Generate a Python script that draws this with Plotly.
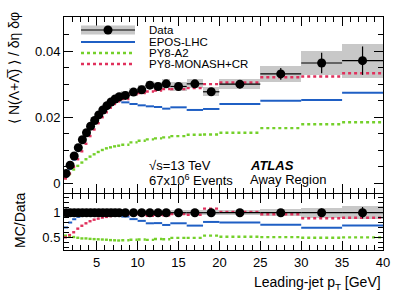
import plotly.graph_objects as go

# ---------------- data ----------------
bin_edges = [1.0, 1.5, 2.0, 2.5, 3.0, 3.5, 4.0, 4.5, 5.0, 5.5, 6.0, 6.5, 7.0, 7.5, 8.0,
             9.0, 10.0, 11.0, 12.0, 13.0, 14.0, 16.0, 18.0, 20.0, 25.0, 30.0, 35.0, 40.0]

data_vals = [0.0030, 0.0055, 0.0083, 0.0108, 0.0132, 0.0153, 0.0173, 0.0190, 0.0207, 0.0222,
             0.0235, 0.0246, 0.0255, 0.0262, 0.0266, 0.0276, 0.0283, 0.0297, 0.0293, 0.0301,
             0.0293, 0.0301, 0.0277, 0.0300, 0.0331, 0.0364, 0.0371]
data_stat = [0.0001] * 14 + [0.0002] * 6 + [0.0004, 0.0005, 0.0008, 0.0012, 0.0018, 0.0031, 0.0043]
data_syst = [0.0002, 0.0003, 0.0004, 0.0005, 0.0006, 0.0007, 0.0008, 0.0008, 0.0009, 0.0009,
             0.0010, 0.0010, 0.0011, 0.0011, 0.0012, 0.0012, 0.0013, 0.0013, 0.0013, 0.0014,
             0.0014, 0.0014, 0.0014, 0.0015, 0.0025, 0.0037, 0.0051]

epos_vals = [0.0021, 0.0044, 0.0072, 0.0099, 0.0127, 0.0151, 0.0176, 0.0197, 0.0215, 0.0229,
             0.0240, 0.0248, 0.0251, 0.0250, 0.0245, 0.0240, 0.0236, 0.0233, 0.0231, 0.0226,
             0.0230, 0.0222, 0.0225, 0.0240, 0.0250, 0.0252, 0.0274]
a2_vals = [0.0016, 0.0028, 0.0042, 0.0053, 0.0063, 0.0073, 0.0081, 0.0088, 0.0095, 0.0101,
           0.0106, 0.0109, 0.0112, 0.0114, 0.0117, 0.0124, 0.0129, 0.0133, 0.0136, 0.0139,
           0.0143, 0.0147, 0.0148, 0.0153, 0.0167, 0.0179, 0.0185]
monash_vals = [0.0015, 0.0030, 0.0050, 0.0073, 0.0097, 0.0120, 0.0143, 0.0163, 0.0182, 0.0200,
               0.0215, 0.0229, 0.0240, 0.0248, 0.0255, 0.0270, 0.0273, 0.0278, 0.0281, 0.0285,
               0.0285, 0.0288, 0.0300, 0.0305, 0.0321, 0.0323, 0.0333]

top_ticks = [0, 0.02, 0.04]
top_ticklabels = ["0", "0.02", "0.04"]
ratio_ticks = [0.5, 1]
ratio_ticklabels = ["0.5", "1"]
x_ticks = [5, 10, 15, 20, 25, 30, 35, 40]

# ---------------- derived helpers ----------------
lo = bin_edges[:-1]
hi = bin_edges[1:]
centers = [(a + b) / 2 for a, b in zip(lo, hi)]
widths = [b - a for a, b in zip(lo, hi)]
halfw = [w / 2 for w in widths]


def segments(vals):
    xs, ys = [], []
    for a, b, v in zip(lo, hi, vals):
        xs += [a, b, None]
        ys += [v, v, None]
    return xs, ys


FONT = "Liberation Sans, Arial, Helvetica, sans-serif"
BLUE = "#1f5fc4"
GREEN = "#74d02a"
RED = "#e0305c"
GREY = "#c8c8c8"

fig = go.Figure()

# ---- top panel ----
fig.add_trace(go.Bar(x=centers, y=[2 * s for s in data_syst],
                     base=[v - s for v, s in zip(data_vals, data_syst)],
                     width=widths, marker=dict(color=GREY, line=dict(width=0)),
                     xaxis="x", yaxis="y", showlegend=False))

for vals, col, dash in [(epos_vals, BLUE, "solid"), (a2_vals, GREEN, "dot"), (monash_vals, RED, "dot")]:
    xs, ys = segments(vals)
    fig.add_trace(go.Scatter(x=xs, y=ys, mode="lines",
                             line=dict(color=col, width=2.4 if dash != "solid" else 2, dash=dash),
                             xaxis="x", yaxis="y", showlegend=False, connectgaps=False))

fig.add_trace(go.Scatter(x=centers, y=data_vals, mode="markers",
                         marker=dict(color="black", size=9),
                         error_x=dict(type="data", array=halfw, color="black", thickness=1.2, width=0),
                         error_y=dict(type="data", array=data_stat, color="black", thickness=1.2, width=0),
                         xaxis="x", yaxis="y", showlegend=False))

# ---- ratio panel ----
ones = [1.0] * len(data_vals)
rel_syst = [s / v for s, v in zip(data_syst, data_vals)]
rel_stat = [s / v for s, v in zip(data_stat, data_vals)]
fig.add_trace(go.Bar(x=centers, y=[2 * r for r in rel_syst], base=[1 - r for r in rel_syst],
                     width=widths, marker=dict(color=GREY, line=dict(width=0)),
                     xaxis="x2", yaxis="y2", showlegend=False))

for vals, col, dash in [(epos_vals, BLUE, "solid"), (a2_vals, GREEN, "dot"), (monash_vals, RED, "dot")]:
    r = [m / d for m, d in zip(vals, data_vals)]
    xs, ys = segments(r)
    fig.add_trace(go.Scatter(x=xs, y=ys, mode="lines",
                             line=dict(color=col, width=2.4 if dash != "solid" else 2, dash=dash),
                             xaxis="x2", yaxis="y2", showlegend=False))

fig.add_trace(go.Scatter(x=centers, y=ones, mode="markers",
                         marker=dict(color="black", size=9),
                         error_x=dict(type="data", array=halfw, color="black", thickness=1.2, width=0),
                         error_y=dict(type="data", array=rel_stat, color="black", thickness=1.2, width=0),
                         xaxis="x2", yaxis="y2", showlegend=False))

# ---------------- layout ----------------
L, R, T, B = 64, 16, 17, 49
W, H = 399, 299
pw, ph = W - L - R, H - T - B


def px(xp):
    return (xp - L) / pw


def py(yp):
    return (H - B - yp) / ph


axis_common = dict(showline=True, linecolor="black", linewidth=1, mirror="ticks",
                   ticks="inside", ticklen=9, tickwidth=1, tickcolor="black",
                   showgrid=False, zeroline=False, automargin=False,
                   tickfont=dict(family=FONT, size=13, color="black"))

fig.update_layout(
    width=W, height=H, margin=dict(l=L, r=R, t=T, b=B, autoexpand=False),
    paper_bgcolor="white", plot_bgcolor="white", barmode="overlay", bargap=0,
    showlegend=False,
    xaxis=dict(domain=[0, 1], range=[1, 40], anchor="y", tickvals=x_ticks, showticklabels=False,
               minor=dict(ticks="inside", ticklen=5, dtick=1, tickcolor="black", showgrid=False),
               **axis_common),
    yaxis=dict(domain=[py(193), 1], range=[-0.0029, 0.0503], anchor="x",
               tickvals=top_ticks, ticktext=top_ticklabels,
               minor=dict(ticks="inside", ticklen=5, dtick=0.005, tick0=0, tickcolor="black", showgrid=False),
               **axis_common),
    xaxis2=dict(domain=[0, 1], range=[1, 40], anchor="y2", matches="x", tickvals=x_ticks,
                minor=dict(ticks="inside", ticklen=5, dtick=1, tickcolor="black", showgrid=False),
                **axis_common),
    yaxis2=dict(domain=[0, py(194)], range=[0.242, 1.38], anchor="x2",
                tickvals=ratio_ticks, ticktext=ratio_ticklabels,
                minor=dict(ticks="inside", ticklen=5, dtick=0.1, tick0=0, tickcolor="black", showgrid=False),
                **axis_common),
)

# ---------------- axis titles (ROOT-style placement) ----------------
fig.add_annotation(xref="paper", yref="paper", x=px(14), y=py(10), textangle=-90,
                   text="\u27e8 N(\u039b+\u039b\u0305) \u27e9 / \u03b4\u03b7 \u03b4\u03c6", showarrow=False,
                   xanchor="center", yanchor="top", font=dict(family=FONT, size=14, color="black"))
fig.add_annotation(xref="paper", yref="paper", x=px(20), y=py(221), textangle=-90,
                   text="MC/Data", showarrow=False,
                   xanchor="center", yanchor="middle", font=dict(family=FONT, size=14, color="black"))
fig.add_annotation(xref="paper", yref="paper", x=1.0, y=py(283),
                   text="Leading-jet p<sub>T</sub> [GeV]", showarrow=False,
                   xanchor="right", yanchor="middle", font=dict(family=FONT, size=14, color="black"))

# ---------------- legend (drawn) ----------------
legend_rows = [30, 42, 53, 64]
legend_names = ["Data", "EPOS-LHC", "PY8-A2", "PY8-MONASH+CR"]
x0l, x1l = px(81), px(135)
fig.add_shape(type="rect", xref="paper", yref="paper", x0=x0l, x1=x1l, y0=py(34.5), y1=py(25.5),
              fillcolor=GREY, line=dict(width=0))
fig.add_shape(type="line", xref="paper", yref="paper", x0=x0l, x1=x1l, y0=py(30), y1=py(30),
              line=dict(color="black", width=1.2))
fig.add_shape(type="circle", xref="paper", yref="paper", x0=px(103.5), x1=px(112.5), y0=py(34.5), y1=py(25.5),
              fillcolor="black", line=dict(color="black", width=0))
for yy, col in zip(legend_rows[1:], [BLUE, GREEN, RED]):
    fig.add_shape(type="line", xref="paper", yref="paper", x0=x0l, x1=x1l, y0=py(yy), y1=py(yy),
                  line=dict(color=col, width=2.4 if col != BLUE else 2, dash="solid" if col == BLUE else "dot"))
for yy, name in zip(legend_rows, legend_names):
    fig.add_annotation(xref="paper", yref="paper", x=px(147), y=py(yy), text=name, showarrow=False,
                       xanchor="left", yanchor="middle", font=dict(family=FONT, size=11.5, color="black"))

# ---------------- labels ----------------
fig.add_annotation(xref="paper", yref="paper", x=px(147), y=py(165), text="\u221as=13 TeV", showarrow=False,
                   xanchor="left", yanchor="middle", font=dict(family=FONT, size=13, color="black"))
fig.add_annotation(xref="paper", yref="paper", x=px(147), y=py(180), text="67x10<sup>6</sup> Events",
                   showarrow=False, xanchor="left", yanchor="middle", font=dict(family=FONT, size=13, color="black"))
fig.add_annotation(xref="paper", yref="paper", x=px(248), y=py(165), text="<b><i>ATLAS</i></b>", showarrow=False,
                   xanchor="left", yanchor="middle", font=dict(family=FONT, size=13, color="black"))
fig.add_annotation(xref="paper", yref="paper", x=px(248), y=py(180), text="Away Region", showarrow=False,
                   xanchor="left", yanchor="middle", font=dict(family=FONT, size=13, color="black"))

fig.write_html("out.html", config={"displayModeBar": False},
               post_script="document.body.style.margin='0';document.body.style.padding='0';")
